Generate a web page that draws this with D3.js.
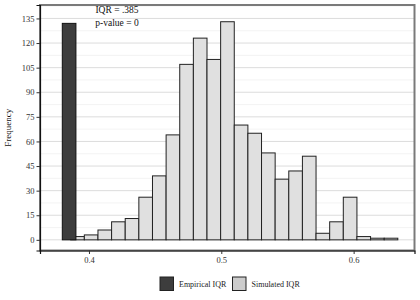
<!DOCTYPE html>
<html>
<head>
<meta charset="utf-8">
<script src="https://cdn.jsdelivr.net/npm/d3@7"></script>
<style>
  body { margin: 0; background: #fff; }
  svg { display: block; font-family: "Liberation Serif", serif; }
</style>
</head>
<body>
<div id="chart"></div>
<script>
// simulated IQR histogram (lower bin edge start + width, counts per bin)
const binStart = 0.3759;
const binWidth = 0.0103;
const simCounts = [0, 2, 3, 6, 11, 13, 26, 39, 64, 107, 123, 110, 133, 70, 65, 53, 37, 42, 51, 4, 11, 26, 2, 1, 1];

// empirical IQR bar
const empiricalIQR = 0.385;
const empiricalCount = 132;

const yTicks = [0, 15, 30, 45, 60, 75, 90, 105, 120, 135];
const xTicks = [0.4, 0.5, 0.6];
const legendLabels = ['Empirical IQR', 'Simulated IQR'];
const annotations = ['IQR = .385', 'p-value = 0'];

const W = 420, H = 300;
const pLeft = 40, pRight = 414.5, pTop = 5, pBottom = 250.5;

const svg = d3.select('#chart').append('svg')
    .attr('width', W)
    .attr('height', H);

const x = d3.scaleLinear().domain([0.363, 0.646]).range([pLeft, pRight]);
const y = d3.scaleLinear().domain([-6.5, 143.2]).range([pBottom, pTop]);

// minor gridlines
const minor = d3.range(7.5, 143, 15);
svg.append('g').selectAll('line')
    .data(minor)
    .enter().append('line')
    .attr('x1', pLeft).attr('x2', pRight)
    .attr('y1', d => y(d)).attr('y2', d => y(d))
    .attr('stroke', '#f0f0f0')
    .attr('stroke-width', 0.8);

// major gridlines
svg.append('g').selectAll('line')
    .data(yTicks)
    .enter().append('line')
    .attr('x1', pLeft).attr('x2', pRight)
    .attr('y1', d => y(d)).attr('y2', d => y(d))
    .attr('stroke', '#dcdcdc')
    .attr('stroke-width', 1);

// simulated bars
svg.append('g').selectAll('rect')
    .data(simCounts)
    .enter().append('rect')
    .attr('x', (d, i) => x(binStart + i * binWidth))
    .attr('width', x(binStart + binWidth) - x(binStart))
    .attr('y', d => y(d))
    .attr('height', d => y(0) - y(d))
    .attr('fill', '#e0e0e0')
    .attr('stroke', d => d === 0 ? '#888' : '#222')
    .attr('stroke-width', 1);

// empirical bar
svg.append('rect')
    .attr('x', x(empiricalIQR - binWidth / 2))
    .attr('width', x(binStart + binWidth) - x(binStart))
    .attr('y', y(empiricalCount))
    .attr('height', y(0) - y(empiricalCount))
    .attr('fill', '#3d3d3d')
    .attr('stroke', '#111')
    .attr('stroke-width', 1);

// panel border
svg.append('rect')
    .attr('x', pLeft).attr('y', pTop)
    .attr('width', pRight - pLeft).attr('height', pBottom - pTop)
    .attr('fill', 'none')
    .attr('stroke', '#7a7a7a')
    .attr('stroke-width', 2);

// axes
const yAxis = svg.append('g')
    .attr('transform', `translate(${pLeft},0)`)
    .call(d3.axisLeft(y).tickValues(yTicks).tickSize(3.5).tickPadding(2).tickFormat(d3.format('d')));
const xAxis = svg.append('g')
    .attr('transform', `translate(0,${pBottom})`)
    .call(d3.axisBottom(x).tickValues(xTicks).tickSize(3.5).tickPadding(3).tickFormat(d3.format('.1f')));

[yAxis, xAxis].forEach(g => {
    g.select('.domain').attr('stroke', '#111').attr('stroke-width', 1.2);
    g.selectAll('.tick line').attr('stroke', '#333');
    g.selectAll('.tick text')
        .attr('fill', '#333')
        .style('font-family', '"Liberation Serif", serif')
        .style('font-size', '8.5px');
});

// y label
svg.append('text')
    .attr('transform', `translate(11,${(pTop + pBottom) / 2}) rotate(-90)`)
    .attr('text-anchor', 'middle')
    .attr('font-size', '9px')
    .attr('fill', '#111')
    .text('Frequency');

// annotation
svg.selectAll('.annot')
    .data(annotations)
    .enter().append('text')
    .attr('class', 'annot')
    .attr('x', 117)
    .attr('y', (d, i) => 12.5 + i * 13.5)
    .attr('text-anchor', 'middle')
    .attr('font-size', '9.5px')
    .attr('fill', '#111')
    .text(d => d);

// legend
const legendFill = ['#3d3d3d', '#cccccc'];
const legendX = [160, 232.5];
const legend = svg.append('g').selectAll('g')
    .data(legendLabels)
    .enter().append('g')
    .attr('transform', (d, i) => `translate(${legendX[i]},277)`);
legend.append('rect')
    .attr('width', 13.5).attr('height', 13.5)
    .attr('fill', (d, i) => legendFill[i])
    .attr('stroke', '#222')
    .attr('stroke-width', 1);
legend.append('text')
    .attr('x', 19)
    .attr('y', 10)
    .attr('font-size', '8px')
    .attr('fill', '#222')
    .text(d => d);
</script>
</body>
</html>
